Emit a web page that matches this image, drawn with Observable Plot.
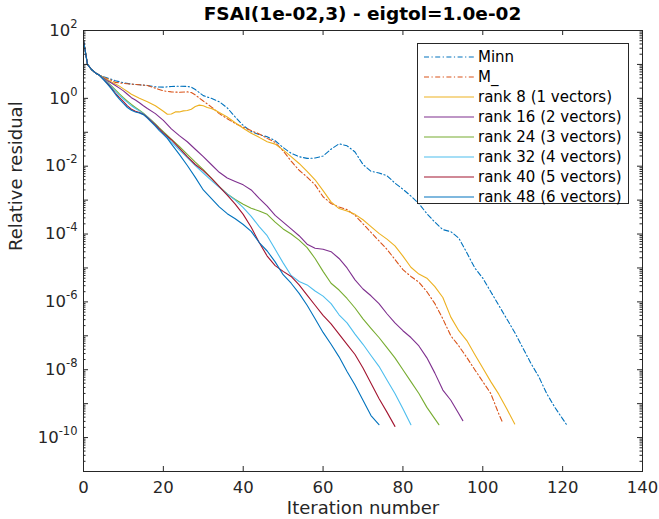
<!DOCTYPE html>
<html><head><meta charset="utf-8">
<script src="https://cdn.jsdelivr.net/npm/d3@7"></script>
<script src="https://cdn.jsdelivr.net/npm/@observablehq/plot@0.6"></script>
<style>
body{margin:0;background:#fff;font-family:"DejaVu Sans",sans-serif;}
#wrap{position:relative;width:659px;height:519px;overflow:hidden;}
#title{position:absolute;left:83px;top:5px;width:559px;text-align:center;font-weight:bold;font-size:18.5px;line-height:18px;color:#000;white-space:nowrap;}
#chart{position:absolute;left:0;top:29px;}
#legend{position:absolute;left:417px;top:43px;width:212px;height:161px;box-sizing:border-box;border:1px solid #262626;background:#fff;}
.row{position:absolute;left:0;height:20px;width:210px;font-size:15px;line-height:20px;color:#000;white-space:nowrap;}
.row svg{position:absolute;left:5px;top:0;}
.row span{position:absolute;left:60px;top:0;}
</style></head><body>
<div id="wrap">
<div id="title">FSAI(1e-02,3) - eigtol=1.0e-02</div>
<div id="chart"></div>
<div id="legend"></div>
</div>
<script>
// ---- data (iteration number, log10 of relative residual) ----
const seriesNames = ["Minn","M_","rank 8 (1 vectors)","rank 16 (2 vectors)","rank 24 (3 vectors)","rank 32 (4 vectors)","rank 40 (5 vectors)","rank 48 (6 vectors)"];

const iterMinn = [0,1,2,3,4,5,6,7,8,10,12,14,16,18,20,22,24,26,27,28,30,32,34,36,38,40,42,44,46,48,50,52,54,56,58,60,62,64,66,68,70,72,74,76,78,80,82,84,86,88,90,92,94,96,98,100,102,104,106,108,110,112,114,116,118,120,121];
const logMinn  = [1.7,1.0,0.85,0.75,0.68,0.64,0.60,0.56,0.52,0.46,0.42,0.40,0.38,0.34,0.33,0.35,0.36,0.35,0.33,0.26,0.08,0.0,-0.10,-0.28,-0.55,-0.80,-0.98,-1.07,-1.13,-1.25,-1.45,-1.62,-1.72,-1.77,-1.76,-1.70,-1.50,-1.34,-1.40,-1.58,-1.95,-2.15,-2.20,-2.28,-2.50,-2.68,-2.88,-3.10,-3.40,-3.65,-3.87,-3.93,-4.12,-4.55,-5.00,-5.30,-5.70,-6.10,-6.50,-6.90,-7.35,-7.80,-8.20,-8.70,-9.10,-9.45,-9.62];

const iterM = [0,1,2,3,4,5,6,7,8,10,12,14,16,18,20,22,24,26,27,28,30,32,34,36,38,40,42,44,46,48,50,52,54,56,58,60,62,64,66,68,70,72,74,76,78,80,82,84,86,88,90,92,94,96,98,100,102,104,105];
const logM  = [1.7,1.0,0.85,0.75,0.68,0.62,0.58,0.53,0.47,0.44,0.42,0.40,0.38,0.30,0.22,0.19,0.18,0.19,0.17,0.10,-0.08,-0.25,-0.45,-0.60,-0.74,-0.85,-0.95,-1.05,-1.18,-1.30,-1.55,-1.85,-2.12,-2.32,-2.55,-2.90,-3.10,-3.20,-3.28,-3.45,-3.70,-3.95,-4.20,-4.45,-4.75,-5.05,-5.25,-5.42,-5.70,-6.05,-6.50,-7.00,-7.30,-7.64,-8.00,-8.35,-8.70,-9.30,-9.57];

const iterR8 = [0,1,2,3,4,5,6,7,8,9,10,11,12,14,16,18,20,21,22,23,24,25,26,27,28,29,30,31,32,33,34,36,38,40,42,44,46,48,50,52,54,56,58,60,62,64,66,68,70,72,74,76,78,80,82,84,86,88,90,92,94,96,98,100,102,104,106,108];
const logR8  = [1.7,1.0,0.85,0.75,0.68,0.62,0.55,0.48,0.42,0.36,0.28,0.20,0.12,0.00,-0.10,-0.22,-0.38,-0.47,-0.46,-0.40,-0.40,-0.37,-0.36,-0.32,-0.24,-0.20,-0.22,-0.27,-0.30,-0.35,-0.42,-0.55,-0.72,-0.88,-1.03,-1.15,-1.28,-1.35,-1.52,-1.72,-1.92,-2.15,-2.40,-2.72,-3.05,-3.25,-3.32,-3.42,-3.58,-3.78,-3.98,-4.15,-4.35,-4.65,-4.98,-5.18,-5.30,-5.55,-5.87,-6.45,-6.85,-7.14,-7.55,-7.95,-8.35,-8.72,-9.15,-9.60];

const iterR16 = [0,1,2,3,4,5,6,7,8,9,10,11,12,13,14,15,16,18,20,22,24,26,28,30,32,34,36,38,40,42,44,46,48,50,52,54,56,58,60,62,64,66,68,70,72,74,76,78,80,82,84,86,88,90,92,94,95];
const logR16  = [1.7,1.0,0.85,0.75,0.68,0.60,0.52,0.45,0.38,0.30,0.22,0.12,0.02,-0.05,-0.13,-0.22,-0.30,-0.45,-0.65,-0.90,-1.10,-1.28,-1.50,-1.72,-1.95,-2.18,-2.35,-2.45,-2.55,-2.70,-2.95,-3.18,-3.45,-3.65,-3.85,-4.05,-4.30,-4.42,-4.45,-4.52,-4.72,-5.00,-5.35,-5.62,-5.82,-6.05,-6.35,-6.62,-6.85,-7.05,-7.30,-7.65,-8.10,-8.60,-8.90,-9.30,-9.50];

const iterR24 = [0,1,2,3,4,5,6,7,8,9,10,11,12,13,14,15,16,17,18,19,20,22,24,26,28,30,32,34,36,38,40,42,44,46,48,50,52,54,56,58,60,62,64,66,68,70,72,74,76,78,80,82,84,86,88,89];
const logR24  = [1.7,1.0,0.85,0.75,0.68,0.58,0.48,0.37,0.25,0.13,0.02,-0.08,-0.18,-0.27,-0.35,-0.44,-0.54,-0.64,-0.75,-0.87,-0.98,-1.20,-1.42,-1.65,-1.88,-2.10,-2.35,-2.60,-2.82,-2.98,-3.12,-3.24,-3.32,-3.42,-3.65,-3.85,-4.00,-4.18,-4.40,-4.72,-5.10,-5.45,-5.65,-5.90,-6.18,-6.50,-6.78,-7.05,-7.35,-7.65,-8.00,-8.35,-8.70,-9.11,-9.45,-9.62];

const iterR32 = [0,1,2,3,4,5,6,7,8,9,10,11,12,13,14,15,16,17,18,19,20,22,24,26,28,30,32,34,36,38,40,42,44,46,48,50,52,54,56,58,60,62,64,66,68,70,72,74,76,78,80,82];
const logR32  = [1.7,1.0,0.85,0.75,0.68,0.57,0.46,0.34,0.21,0.09,-0.02,-0.12,-0.22,-0.30,-0.37,-0.45,-0.55,-0.66,-0.78,-0.90,-1.02,-1.28,-1.52,-1.75,-1.98,-2.20,-2.42,-2.62,-2.82,-3.00,-3.22,-3.48,-3.78,-4.05,-4.45,-4.85,-5.22,-5.40,-5.50,-5.68,-5.83,-6.05,-6.38,-6.62,-6.95,-7.25,-7.58,-7.90,-8.30,-8.70,-9.15,-9.62];

const iterR40 = [0,1,2,3,4,5,6,7,8,9,10,11,12,13,14,15,16,17,18,19,20,21,22,24,26,28,30,32,34,36,38,40,42,44,46,48,50,52,54,56,58,60,62,64,66,68,70,72,74,76,78];
const logR40  = [1.7,1.0,0.85,0.75,0.68,0.56,0.44,0.30,0.15,0.02,-0.10,-0.22,-0.32,-0.38,-0.42,-0.47,-0.56,-0.67,-0.78,-0.90,-1.02,-1.12,-1.22,-1.47,-1.72,-1.95,-2.13,-2.35,-2.60,-2.85,-3.12,-3.42,-3.80,-4.25,-4.65,-4.93,-5.10,-5.25,-5.50,-5.80,-6.10,-6.40,-6.65,-6.95,-7.25,-7.55,-7.95,-8.40,-8.85,-9.25,-9.67];

const iterR48 = [0,1,2,3,4,5,6,7,8,9,10,11,12,13,14,15,16,17,18,19,20,21,22,24,26,28,30,32,34,36,38,40,42,44,46,48,50,52,54,56,58,60,62,64,66,68,70,72,74];
const logR48  = [1.7,1.0,0.85,0.75,0.68,0.55,0.42,0.28,0.12,-0.02,-0.15,-0.27,-0.35,-0.40,-0.43,-0.48,-0.58,-0.70,-0.82,-0.95,-1.06,-1.18,-1.34,-1.65,-1.98,-2.33,-2.70,-2.95,-3.20,-3.40,-3.55,-3.72,-3.92,-4.25,-4.50,-4.82,-5.20,-5.45,-5.75,-6.10,-6.50,-6.90,-7.25,-7.62,-8.05,-8.45,-8.90,-9.35,-9.62];

const xTicks = [0,20,40,60,80,100,120,140];
const yLabelExponents = [-10,-8,-6,-4,-2,0,2];

// ---- styling ----
const dashDot = "5,2.5,1.2,2.5";
const looks = [
  {stroke:"#0072BD", dash:dashDot},
  {stroke:"#D95319", dash:dashDot},
  {stroke:"#EDB120", dash:null},
  {stroke:"#7E2F8E", dash:null},
  {stroke:"#77AC30", dash:null},
  {stroke:"#4DBEEE", dash:null},
  {stroke:"#A2142F", dash:null},
  {stroke:"#0072BD", dash:null}
];

const iters = [iterMinn, iterM, iterR8, iterR16, iterR24, iterR32, iterR40, iterR48];
const logs  = [logMinn, logM, logR8, logR16, logR24, logR32, logR40, logR48];

const table = iters.map((it, k) => it.map((x, i) => ({series: seriesNames[k], x, y: Math.pow(10, logs[k][i])})));

const lineMarks = table.map((rows, k) => Plot.line(rows, {
  x: "x", y: "y", stroke: looks[k].stroke, strokeWidth: 1.1,
  strokeDasharray: looks[k].dash || undefined
}));

const majorY = d3.range(-11, 3).map(e => Math.pow(10, e));
const minorY = d3.range(-11, 2).flatMap(e => d3.range(2, 10).map(m => m * Math.pow(10, e)));
const labelY = yLabelExponents.map(e => Math.pow(10, e));

const W = 659, H = 490, mT = 1, mB = 48, mL = 83, mR = 17;
const pw = W - mL - mR, ph = H - mT - mB;
const axisColor = "#262626";
const chart = Plot.plot({
  width: W, height: H,
  marginTop: mT, marginBottom: mB, marginLeft: mL, marginRight: mR,
  x: {domain: [0, 140]},
  y: {type: "log", domain: [1e-11, 1e2]},
  style: {fontFamily: "DejaVu Sans", fontSize: "16.5px", color: axisColor, background: "white", overflow: "visible"},
  marks: [
    ...lineMarks,
    // inward tick marks on all four sides
    Plot.ruleX(xTicks, {insetTop: ph - 5, stroke: axisColor}),
    Plot.ruleX(xTicks, {insetBottom: ph - 5, stroke: axisColor}),
    Plot.ruleY(majorY, {insetRight: pw - 5, stroke: axisColor}),
    Plot.ruleY(minorY, {insetRight: pw - 2.5, stroke: axisColor}),
    Plot.ruleY(majorY, {insetLeft: pw - 5, stroke: axisColor}),
    Plot.ruleY(minorY, {insetLeft: pw - 2.5, stroke: axisColor}),
    Plot.frame({stroke: axisColor, strokeWidth: 1}),
    Plot.axisX({ticks: xTicks, tickSize: 0, tickPadding: 10, tickFormat: d => String(d), label: null, fontSize: 16.5, fill: axisColor}),
    Plot.axisY({ticks: labelY, tickSize: 0, tickPadding: 6, tickFormat: d => "10^" + Math.round(Math.log10(d)), label: null, fontSize: 16.5, fill: axisColor}),
    Plot.text(["Iteration number"], {text: d => d, frameAnchor: "bottom", lineAnchor: "middle", dy: 37, fontSize: 18, fill: axisColor}),
    Plot.text(["Relative residual"], {text: d => d, frameAnchor: "left", rotate: -90, dx: -67, fontSize: 18, fill: axisColor})
  ]
});
document.getElementById("chart").appendChild(chart);

// superscript exponents on the y tick labels
chart.querySelectorAll('g[aria-label="y-axis tick label"] text').forEach(t => {
  const s = t.textContent;
  const m = s.match(/^10\^(-?\d+)$/);
  if (!m) return;
  while (t.firstChild) t.removeChild(t.firstChild);
  t.appendChild(document.createTextNode("10"));
  const sup = document.createElementNS("http://www.w3.org/2000/svg", "tspan");
  sup.setAttribute("dy", "-8");
  sup.setAttribute("font-size", "11.5");
  sup.textContent = m[1];
  t.appendChild(sup);
});

// legend
const legend = document.getElementById("legend");
seriesNames.forEach((name, k) => {
  const row = document.createElement("div");
  row.className = "row";
  row.style.top = (2.7 + k * 20) + "px";
  const svg = d3.create("svg").attr("width", 52).attr("height", 20);
  svg.append("line").attr("x1", 1).attr("x2", 51).attr("y1", 10).attr("y2", 10)
    .attr("stroke", looks[k].stroke).attr("stroke-width", 1.1)
    .attr("stroke-dasharray", looks[k].dash);
  row.appendChild(svg.node());
  const span = document.createElement("span");
  span.textContent = name;
  row.appendChild(span);
  legend.appendChild(row);
});
</script>
</body></html>
